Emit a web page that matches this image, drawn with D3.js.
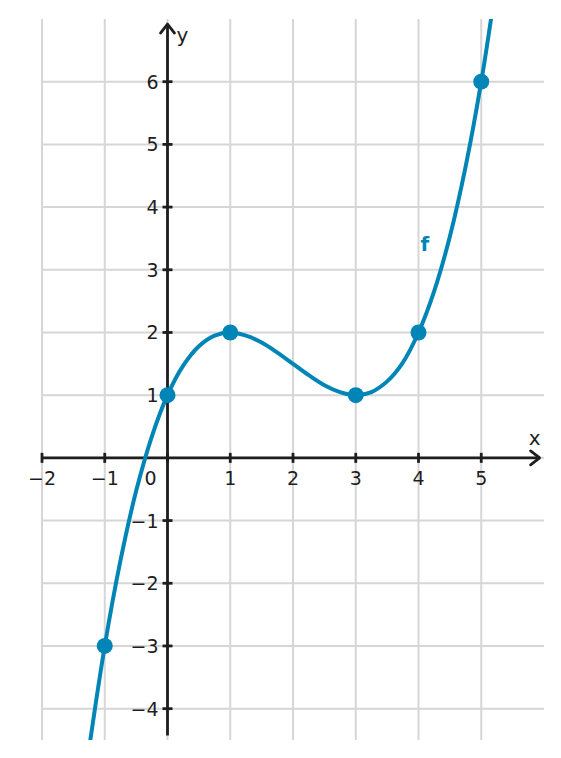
<!DOCTYPE html>
<html>
<head>
<meta charset="utf-8">
<script src="https://cdn.jsdelivr.net/npm/d3@7"></script>
<style>
  body { margin: 0; background: #fff; }
  svg { display: block; font-family: "DejaVu Sans", sans-serif; }
</style>
</head>
<body>
<div id="chart"></div>
<script>
// marked points on f
var markX = [-1, 0, 1, 3, 4, 5];
var markY = [-3, 1, 2, 1, 2, 6];

// points
var curveX = [-1.25, -1, -0.75, -0.5, -0.25, 0, 0.25, 0.5, 0.75, 1, 1.25, 1.5, 1.75, 2, 2.25, 2.5, 2.75, 3, 3.25, 3.5, 3.75, 4, 4.25, 4.5, 4.75, 5, 5.2];
var curveY = [-4.64, -3, -1.64, -0.53, 0.34, 1, 1.47, 1.78, 1.95, 2, 1.95, 1.84, 1.68, 1.5, 1.32, 1.16, 1.05, 1, 1.05, 1.22, 1.52, 2, 2.66, 3.53, 4.64, 6, 7.3];

var xTicks = [-2, -1, 0, 1, 2, 3, 4, 5];
var yTicks = [-4, -3, -2, -1, 1, 2, 3, 4, 5, 6];
var gridX = [-2, -1, 0, 1, 2, 3, 4, 5];
var gridY = [-4, -3, -2, -1, 0, 1, 2, 3, 4, 5, 6];

var width = 561, height = 758;
var blue = "#0085b6", axisCol = "#1e1e1e", gridCol = "#d6d6d6";

var x = d3.scaleLinear().domain([-2, 6]).range([42, 544]);
var y = d3.scaleLinear().domain([-4.5, 7]).range([740, 19]);

var svg = d3.select("#chart").append("svg")
    .attr("width", width)
    .attr("height", height);

svg.append("defs").append("clipPath").attr("id", "plot")
  .append("rect")
    .attr("x", x(-2)).attr("y", y(7))
    .attr("width", x(6) - x(-2)).attr("height", y(-4.5) - y(7));

// grid
var grid = svg.append("g").attr("stroke", gridCol).attr("stroke-width", 2);
grid.selectAll(".gx").data(gridX).enter().append("line")
    .attr("x1", d => x(d)).attr("x2", d => x(d))
    .attr("y1", y(7)).attr("y2", y(-4.5));
grid.selectAll(".gy").data(gridY).enter().append("line")
    .attr("x1", x(-2)).attr("x2", x(6))
    .attr("y1", d => y(d)).attr("y2", d => y(d));

// axes
var axes = svg.append("g").attr("stroke", axisCol).attr("stroke-width", 2.8).attr("fill", "none");
axes.append("line")
    .attr("x1", x(-2)).attr("x2", x(5.93))
    .attr("y1", y(0)).attr("y2", y(0));
axes.append("path")
    .attr("d", "M" + (x(5.93) - 9) + "," + (y(0) - 7) + " L" + x(5.93) + "," + y(0) + " L" + (x(5.93) - 9) + "," + (y(0) + 7))
    .attr("stroke-linecap", "round").attr("stroke-linejoin", "round");
axes.append("line")
    .attr("x1", x(0)).attr("x2", x(0))
    .attr("y1", y(-4.43)).attr("y2", y(6.92));
axes.append("path")
    .attr("d", "M" + (x(0) - 7) + "," + (y(6.92) + 9) + " L" + x(0) + "," + y(6.92) + " L" + (x(0) + 7) + "," + (y(6.92) + 9))
    .attr("stroke-linecap", "round").attr("stroke-linejoin", "round");

axes.selectAll(".tx").data(xTicks).enter().append("line")
    .attr("x1", d => x(d)).attr("x2", d => x(d))
    .attr("y1", y(0) - 5).attr("y2", y(0) + 5);
axes.selectAll(".ty").data(yTicks).enter().append("line")
    .attr("x1", x(0) - 5).attr("x2", x(0) + 5)
    .attr("y1", d => y(d)).attr("y2", d => y(d));

function fmt(d) { return d < 0 ? "\u2212" + Math.abs(d) : String(d); }

var labels = svg.append("g").attr("fill", axisCol);
labels.selectAll(".lx").data(xTicks).enter().append("text")
    .attr("x", d => d === 0 ? x(0) - 17 : x(d))
    .attr("y", y(0) + 27)
    .attr("text-anchor", "middle")
    .style("font-size", "19px")
    .text(fmt);
labels.selectAll(".ly").data(yTicks).enter().append("text")
    .attr("x", x(0) - 9)
    .attr("y", d => y(d) + 7)
    .attr("text-anchor", "end")
    .style("font-size", "19px")
    .text(fmt);
labels.append("text").attr("x", x(5.85)).attr("y", y(0) - 13)
    .attr("text-anchor", "middle").style("font-size", "20px").text("x");
labels.append("text").attr("x", x(0) + 9).attr("y", y(6.63))
    .style("font-size", "20px").text("y");

// curve
var pts = curveX.map((d, i) => [d, curveY[i]]);
var line = d3.line().x(d => x(d[0])).y(d => y(d[1])).curve(d3.curveCatmullRom.alpha(0.5));
svg.append("path")
    .datum(pts)
    .attr("clip-path", "url(#plot)")
    .attr("d", line)
    .attr("fill", "none")
    .attr("stroke", blue)
    .attr("stroke-width", 4);

svg.selectAll(".dot").data(markX).enter().append("circle")
    .attr("cx", d => x(d))
    .attr("cy", (d, i) => y(markY[i]))
    .attr("r", 8)
    .attr("fill", blue);

svg.append("text")
    .attr("x", x(4.1)).attr("y", y(3.3))
    .attr("fill", blue)
    .attr("text-anchor", "middle")
    .style("font-size", "20px").style("font-weight", "bold")
    .text("f");
</script>
</body>
</html>
